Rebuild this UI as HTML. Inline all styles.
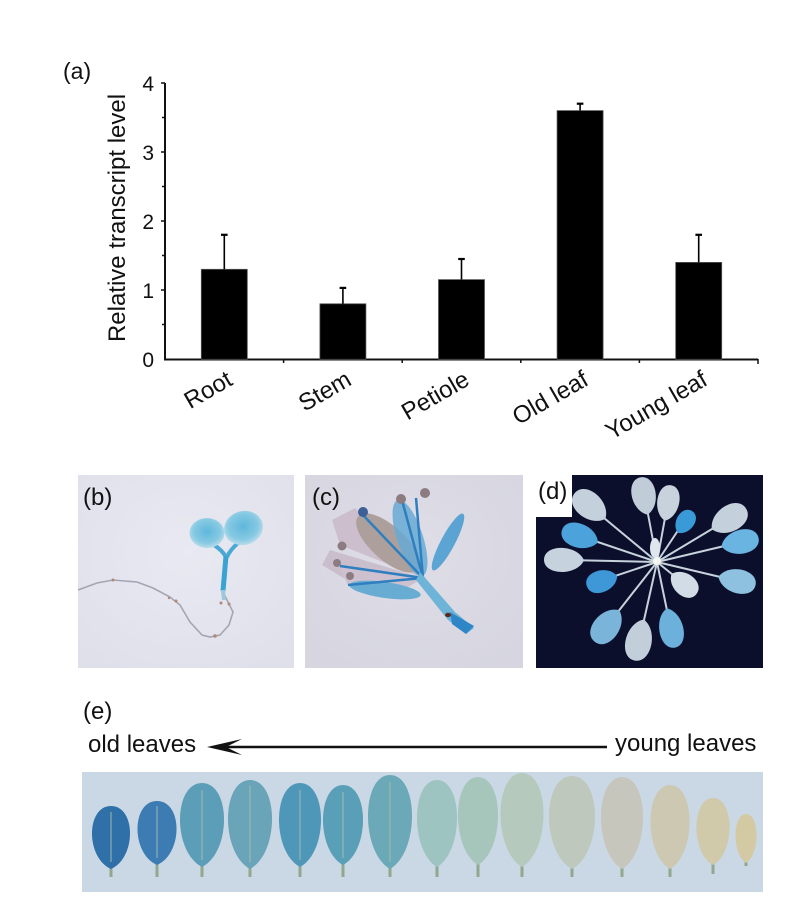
<!DOCTYPE html>
<html><head><meta charset="utf-8"><style>
html,body{margin:0;padding:0;background:#fff;}
svg{display:block;font-family:"Liberation Sans",Arial,sans-serif;}
</style></head><body>
<svg width="800" height="916" viewBox="0 0 800 916" xmlns="http://www.w3.org/2000/svg" xmlns:xlink="http://www.w3.org/1999/xlink">
<defs>
<radialGradient id="cot" cx="50%" cy="45%" r="55%"><stop offset="0" stop-color="#5fb7dc"/><stop offset="0.7" stop-color="#86c9e2"/><stop offset="1" stop-color="#b9dcea"/></radialGradient>
<radialGradient id="bgb" cx="50%" cy="40%" r="70%"><stop offset="0" stop-color="#e9e9f2"/><stop offset="1" stop-color="#e0e0eb"/></radialGradient>
<radialGradient id="bgc" cx="50%" cy="40%" r="70%"><stop offset="0" stop-color="#dfdee7"/><stop offset="1" stop-color="#d6d5e0"/></radialGradient>
<path id="lf" d="M0,0 C-1.35,-0.18 -1.32,-1 0,-1 C1.32,-1 1.35,-0.18 0,0 Z"/>
</defs>

<!-- (a) chart -->
<text x="63" y="79" font-size="23" fill="#111">(a)</text>
<text transform="translate(125,218) rotate(-90)" text-anchor="middle" font-size="24" fill="#111">Relative transcript level</text>
<g font-size="21" fill="#111" text-anchor="end">
<text x="154" y="91">4</text>
<text x="154" y="160">3</text>
<text x="154" y="229">2</text>
<text x="154" y="298">1</text>
<text x="154" y="367">0</text>
</g>
<g stroke="#111" stroke-width="2" fill="none">
<line x1="165" y1="83" x2="165" y2="360"/>
<line x1="164" y1="359.5" x2="758" y2="359.5"/>
</g>
<g stroke="#111" stroke-width="1.5">
<line x1="161" y1="83" x2="165" y2="83"/>
<line x1="162" y1="117.5" x2="165" y2="117.5"/>
<line x1="161" y1="152" x2="165" y2="152"/>
<line x1="162" y1="186.5" x2="165" y2="186.5"/>
<line x1="161" y1="221" x2="165" y2="221"/>
<line x1="162" y1="255.5" x2="165" y2="255.5"/>
<line x1="161" y1="290" x2="165" y2="290"/>
<line x1="162" y1="324.5" x2="165" y2="324.5"/>
<line x1="283.6" y1="359" x2="283.6" y2="363"/>
<line x1="402.2" y1="359" x2="402.2" y2="363"/>
<line x1="520.8" y1="359" x2="520.8" y2="363"/>
<line x1="639.4" y1="359" x2="639.4" y2="363"/>
<line x1="758" y1="359" x2="758" y2="364"/>
</g>
<g fill="#000" stroke="#555" stroke-width="0.8">
<rect x="201.3" y="269.3" width="46" height="90"/>
<rect x="319.9" y="303.8" width="46" height="55.5"/>
<rect x="438.5" y="279.6" width="46" height="79.7"/>
<rect x="557.1" y="110.6" width="46" height="248.7"/>
<rect x="675.7" y="262.4" width="46" height="96.9"/>
</g>
<g stroke="#000" stroke-width="1.6">
<line x1="224.3" y1="269.3" x2="224.3" y2="234.8"/>
<line x1="342.9" y1="303.8" x2="342.9" y2="287.9"/>
<line x1="461.5" y1="279.6" x2="461.5" y2="259"/>
<line x1="580.1" y1="110.6" x2="580.1" y2="103.7"/>
<line x1="698.7" y1="262.4" x2="698.7" y2="234.8"/>
</g>
<g stroke="#000" stroke-width="2.2">
<line x1="221" y1="234.8" x2="227.6" y2="234.8"/>
<line x1="339.6" y1="287.9" x2="346.2" y2="287.9"/>
<line x1="458.2" y1="259" x2="464.8" y2="259"/>
<line x1="576.8" y1="103.7" x2="583.4" y2="103.7"/>
<line x1="695.4" y1="234.8" x2="702" y2="234.8"/>
</g>
<g font-size="24" fill="#111" text-anchor="end">
<text transform="translate(234,384) rotate(-30)">Root</text>
<text transform="translate(353,384) rotate(-30)">Stem</text>
<text transform="translate(471,384) rotate(-30)">Petiole</text>
<text transform="translate(590,384) rotate(-30)">Old leaf</text>
<text transform="translate(709,384) rotate(-30)">Young leaf</text>
</g>

<!-- (b) seedling -->
<rect x="78" y="475" width="216" height="193" fill="url(#bgb)"/>
<path d="M78,590 L97,583 L113,580 L137,582 L153,588 L170,597 L180,605 L190,622 L202,635 L210,637 L220,635 L229,625 L233,612 L228,602 L223,592" fill="none" stroke="#a3a6b2" stroke-width="1.6"/>
<g fill="#b08a78"><circle cx="113" cy="580" r="1.5"/><circle cx="176" cy="601" r="1.5"/><circle cx="215" cy="636" r="1.8"/><circle cx="221" cy="603" r="1.5"/><circle cx="229" cy="604" r="1.5"/><circle cx="169" cy="598" r="1.2"/></g>
<path d="M214,545 Q222,550 226,557 M238,543 Q230,550 227,557" stroke="#4aa9d4" stroke-width="4" fill="none"/>
<line x1="226" y1="556" x2="223" y2="591" stroke="#3aa3d2" stroke-width="5"/>
<line x1="223" y1="590" x2="224" y2="600" stroke="#9cc8dc" stroke-width="4"/>
<ellipse cx="207" cy="533" rx="17.5" ry="15" fill="url(#cot)"/>
<ellipse cx="243.5" cy="528" rx="19.5" ry="17" transform="rotate(-15 243.5 528)" fill="url(#cot)"/>
<text x="83" y="505" font-size="24" fill="#111">(b)</text>

<!-- (c) flower -->
<rect x="305" y="475" width="218" height="193" fill="url(#bgc)"/>
<g opacity="0.9">
<path d="M423,578 L330,550 L322,565 L350,582 Z" fill="#c9bccb"/>
<path d="M423,578 L338,566 L348,585 L400,592 Z" fill="#cdbfcd"/>
<path d="M423,578 L355,508 L332,520 L340,545 Z" fill="#cbbccb"/>
<ellipse cx="388" cy="543" rx="40" ry="17" transform="rotate(42 388 543)" fill="#a89a95"/>
<ellipse cx="385" cy="590" rx="36" ry="8" transform="rotate(8 385 590)" fill="#5ca8d2"/>
<ellipse cx="410" cy="538" rx="40" ry="13" transform="rotate(72 410 538)" fill="#5aa4d2" opacity="0.85"/>
<ellipse cx="448" cy="542" rx="32" ry="7" transform="rotate(-62 448 542)" fill="#4d9ed2"/>
</g>
<g stroke="#2f7fc0" stroke-width="2.5" fill="none">
<path d="M423,578 L362,514"/>
<path d="M423,578 L402,500"/>
<path d="M423,578 L416,498"/>
<path d="M423,578 L348,585"/>
<path d="M423,578 L340,566"/>
</g>
<path d="M420,572 L455,612 L474,628 L466,634 L448,620 L416,580 Z" fill="#6eb4d8"/>
<path d="M450,612 L474,626 L466,634 L452,624 Z" fill="#2e86c6"/>
<ellipse cx="448" cy="615" rx="3" ry="2.2" fill="#5a2a1a"/>
<g fill="#8c7c82"><circle cx="363" cy="512" r="5" fill="#3b5f96"/><circle cx="342" cy="546" r="4.5"/><circle cx="337" cy="563" r="4"/><circle cx="350" cy="576" r="4"/><circle cx="401" cy="499" r="5"/><circle cx="425" cy="493" r="5"/></g>
<text x="312" y="505" font-size="24" fill="#111">(c)</text>

<!-- (d) rosette -->
<rect x="536" y="475" width="227" height="193" fill="#0b0f2b"/>
<g stroke="#c6d2dc" stroke-width="2">
<line x1="657" y1="562" x2="592" y2="508"/><line x1="657" y1="562" x2="583" y2="537"/><line x1="657" y1="562" x2="567" y2="560"/><line x1="657" y1="562" x2="603" y2="580"/><line x1="657" y1="562" x2="610" y2="622"/><line x1="657" y1="562" x2="640" y2="638"/><line x1="657" y1="562" x2="670" y2="625"/><line x1="657" y1="562" x2="683" y2="583"/><line x1="657" y1="562" x2="733" y2="580"/><line x1="657" y1="562" x2="737" y2="543"/><line x1="657" y1="562" x2="727" y2="520"/><line x1="657" y1="562" x2="683" y2="523"/><line x1="657" y1="562" x2="667" y2="507"/><line x1="657" y1="562" x2="645" y2="498"/>
</g>
<g>
<use xlink:href="#lf" fill="#c4d0dc" transform="translate(590,506) rotate(-50) translate(0,20) scale(13,40)"/>
<use xlink:href="#lf" fill="#4ca2da" transform="translate(580,536) rotate(-71) translate(0,19) scale(12,38)"/>
<use xlink:href="#lf" fill="#c6d2de" transform="translate(564,560) rotate(-89) translate(0,20) scale(12,40)"/>
<use xlink:href="#lf" fill="#3e98d8" transform="translate(602,581) rotate(-108) translate(0,16) scale(11,32)"/>
<use xlink:href="#lf" fill="#7ab4d8" transform="translate(607,626) rotate(-142) translate(0,20) scale(13,40)"/>
<use xlink:href="#lf" fill="#c2ced9" transform="translate(639,640) rotate(-167) translate(0,21) scale(13,42)"/>
<use xlink:href="#lf" fill="#6cb0dc" transform="translate(671,628) rotate(168) translate(0,20) scale(12,40)"/>
<use xlink:href="#lf" fill="#d2dce6" transform="translate(684,584) rotate(129) translate(0,16) scale(11,32)"/>
<use xlink:href="#lf" fill="#8ec0e0" transform="translate(737,581) rotate(103) translate(0,19) scale(12,38)"/>
<use xlink:href="#lf" fill="#6ab4e2" transform="translate(740,542) rotate(77) translate(0,19) scale(12,38)"/>
<use xlink:href="#lf" fill="#c4d0dc" transform="translate(729,519) rotate(59) translate(0,20) scale(13,40)"/>
<use xlink:href="#lf" fill="#3a9ad8" transform="translate(685,522) rotate(34) translate(0,13) scale(9,26)"/>
<use xlink:href="#lf" fill="#c8d2dc" transform="translate(668,503) rotate(10) translate(0,18) scale(11,36)"/>
<use xlink:href="#lf" fill="#c0ccd8" transform="translate(644,496) rotate(-11) translate(0,19) scale(12,38)"/>
<ellipse cx="655" cy="548" rx="5" ry="10" fill="#dfe6ee"/>
<circle cx="657" cy="561" r="4" fill="#f4f6f0"/>
</g>
<rect x="536" y="475" width="36" height="42" fill="#fff"/>
<text x="538" y="499" font-size="24" fill="#111">(d)</text>

<!-- (e) -->
<text x="83" y="719" font-size="24" fill="#111">(e)</text>
<text x="88" y="752" font-size="24" fill="#111">old leaves</text>
<text x="615" y="751" font-size="24" fill="#111">young leaves</text>
<line x1="222" y1="747" x2="607" y2="747" stroke="#111" stroke-width="2.5"/>
<path d="M242,739 L207,747 L242,755 L226,747 Z" fill="#111"/>
<rect x="82" y="772" width="681" height="120" fill="#cad8e5"/>
<g stroke="#8fa88f" stroke-width="3">
<line x1="111" y1="860" x2="111" y2="877"/><line x1="157" y1="856" x2="157" y2="877"/><line x1="202" y1="858" x2="202" y2="877"/><line x1="250" y1="860" x2="250" y2="877"/><line x1="300" y1="858" x2="300" y2="877"/><line x1="343" y1="856" x2="343" y2="877"/><line x1="390" y1="860" x2="390" y2="877"/><line x1="437" y1="858" x2="437" y2="877"/><line x1="478" y1="856" x2="478" y2="877"/><line x1="522" y1="858" x2="522" y2="877"/><line x1="572" y1="860" x2="572" y2="877"/><line x1="622" y1="860" x2="622" y2="877"/><line x1="670" y1="860" x2="670" y2="877"/><line x1="713" y1="856" x2="713" y2="874"/><line x1="746" y1="856" x2="746" y2="866"/>
</g>
<g>
<use xlink:href="#lf" fill="#2f70a8" transform="translate(111,869) scale(19,63)"/>
<use xlink:href="#lf" fill="#3c7cb2" transform="translate(157,865) scale(19.5,64)"/>
<use xlink:href="#lf" fill="#5c9db8" transform="translate(202,867) scale(22,84)"/>
<use xlink:href="#lf" fill="#6aa4b8" transform="translate(250,869) scale(22,89)"/>
<use xlink:href="#lf" fill="#4f97b8" transform="translate(300,867) scale(21,84)"/>
<use xlink:href="#lf" fill="#5a9fb8" transform="translate(343,865) scale(20,80)"/>
<use xlink:href="#lf" fill="#6ba8b8" transform="translate(390,869) scale(22,94)"/>
<use xlink:href="#lf" fill="#9dc4c0" transform="translate(437,867) scale(20,87)"/>
<use xlink:href="#lf" fill="#a6c6bc" transform="translate(478,865) scale(20,88)"/>
<use xlink:href="#lf" fill="#b5cabd" transform="translate(522,867) scale(21.5,94)"/>
<use xlink:href="#lf" fill="#bec8bc" transform="translate(572,869) scale(23,93)"/>
<use xlink:href="#lf" fill="#c6c6bc" transform="translate(622,869) scale(21,92)"/>
<use xlink:href="#lf" fill="#cdc8b2" transform="translate(670,869) scale(19.5,84)"/>
<use xlink:href="#lf" fill="#d0c9aa" transform="translate(713,865) scale(16.5,67)"/>
<use xlink:href="#lf" fill="#d3c9a2" transform="translate(746,863) scale(10.5,49)"/>
</g>
<g stroke="#a8c0b0" stroke-width="1.5" opacity="0.6">
<line x1="111" y1="812" x2="111" y2="862"/><line x1="157" y1="806" x2="157" y2="858"/><line x1="202" y1="790" x2="202" y2="860"/><line x1="250" y1="786" x2="250" y2="862"/><line x1="300" y1="790" x2="300" y2="860"/><line x1="343" y1="792" x2="343" y2="858"/><line x1="390" y1="782" x2="390" y2="862"/>
</g>
</svg>
</body></html>
